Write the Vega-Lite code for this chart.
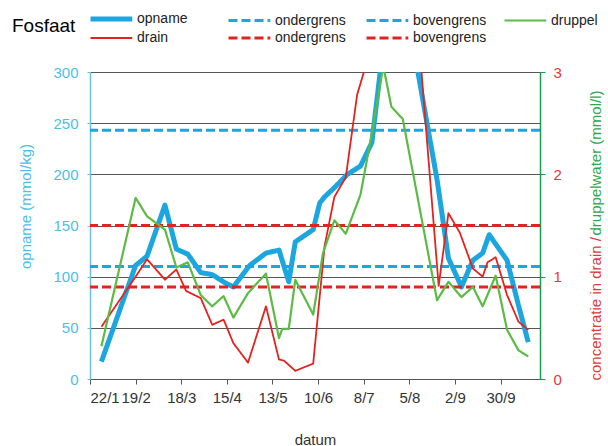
{
  "$schema": "https://vega.github.io/schema/vega-lite/v6.json",
  "width": 450,
  "height": 307,
  "autosize": {"type": "none"},
  "padding": {"left": 90, "top": 72, "right": 68, "bottom": 67},
  "config": {
    "font": "Liberation Sans",
    "view": {"stroke": null},
    "axis": {"titleFontWeight": "normal"}
  },
  "data": {
    "values": [
      {"serie": "ondergrens_b", "waarde": 110},
      {"serie": "bovengrens_b", "waarde": 243},
      {"serie": "ondergrens_r", "waarde": 0.9},
      {"serie": "bovengrens_r", "waarde": 1.5},
      {"serie": "opname", "datum": "2012-01-29", "waarde": 17},
      {"serie": "opname", "datum": "2012-02-19", "waarde": 111},
      {"serie": "opname", "datum": "2012-02-26", "waarde": 120},
      {"serie": "opname", "datum": "2012-03-08", "waarde": 170},
      {"serie": "opname", "datum": "2012-03-15", "waarde": 127},
      {"serie": "opname", "datum": "2012-03-22", "waarde": 122},
      {"serie": "opname", "datum": "2012-03-30", "waarde": 104},
      {"serie": "opname", "datum": "2012-04-06", "waarde": 102},
      {"serie": "opname", "datum": "2012-04-15", "waarde": 93},
      {"serie": "opname", "datum": "2012-04-19", "waarde": 90},
      {"serie": "opname", "datum": "2012-04-29", "waarde": 111},
      {"serie": "opname", "datum": "2012-05-09", "waarde": 123},
      {"serie": "opname", "datum": "2012-05-17", "waarde": 126},
      {"serie": "opname", "datum": "2012-05-23", "waarde": 95},
      {"serie": "opname", "datum": "2012-05-27", "waarde": 134},
      {"serie": "opname", "datum": "2012-06-07", "waarde": 146},
      {"serie": "opname", "datum": "2012-06-11", "waarde": 172},
      {"serie": "opname", "datum": "2012-06-14", "waarde": 178},
      {"serie": "opname", "datum": "2012-06-20", "waarde": 187},
      {"serie": "opname", "datum": "2012-06-28", "waarde": 200},
      {"serie": "opname", "datum": "2012-07-06", "waarde": 208},
      {"serie": "opname", "datum": "2012-07-13", "waarde": 231},
      {"serie": "opname", "datum": "2012-07-20", "waarde": 325},
      {"serie": "opname", "datum": "2012-07-27", "waarde": 360},
      {"serie": "opname", "datum": "2012-08-03", "waarde": 365},
      {"serie": "opname", "datum": "2012-08-22", "waarde": 195},
      {"serie": "opname", "datum": "2012-08-29", "waarde": 118},
      {"serie": "opname", "datum": "2012-09-06", "waarde": 90},
      {"serie": "opname", "datum": "2012-09-13", "waarde": 116},
      {"serie": "opname", "datum": "2012-09-19", "waarde": 123},
      {"serie": "opname", "datum": "2012-09-23", "waarde": 141},
      {"serie": "opname", "datum": "2012-10-04", "waarde": 116},
      {"serie": "opname", "datum": "2012-10-11", "waarde": 72},
      {"serie": "opname", "datum": "2012-10-17", "waarde": 36},
      {"serie": "drain", "datum": "2012-01-29", "waarde": 0.51},
      {"serie": "drain", "datum": "2012-02-19", "waarde": 1.0},
      {"serie": "drain", "datum": "2012-02-26", "waarde": 1.17},
      {"serie": "drain", "datum": "2012-03-08", "waarde": 0.97},
      {"serie": "drain", "datum": "2012-03-15", "waarde": 1.07},
      {"serie": "drain", "datum": "2012-03-21", "waarde": 0.86},
      {"serie": "drain", "datum": "2012-03-30", "waarde": 0.79},
      {"serie": "drain", "datum": "2012-04-06", "waarde": 0.53},
      {"serie": "drain", "datum": "2012-04-13", "waarde": 0.58},
      {"serie": "drain", "datum": "2012-04-19", "waarde": 0.35},
      {"serie": "drain", "datum": "2012-04-28", "waarde": 0.16},
      {"serie": "drain", "datum": "2012-05-09", "waarde": 0.71},
      {"serie": "drain", "datum": "2012-05-17", "waarde": 0.19},
      {"serie": "drain", "datum": "2012-05-20", "waarde": 0.18},
      {"serie": "drain", "datum": "2012-05-27", "waarde": 0.08},
      {"serie": "drain", "datum": "2012-06-07", "waarde": 0.15},
      {"serie": "drain", "datum": "2012-06-14", "waarde": 1.3},
      {"serie": "drain", "datum": "2012-06-20", "waarde": 1.78},
      {"serie": "drain", "datum": "2012-06-27", "waarde": 1.97},
      {"serie": "drain", "datum": "2012-07-02", "waarde": 2.55},
      {"serie": "drain", "datum": "2012-07-04", "waarde": 2.78},
      {"serie": "drain", "datum": "2012-07-10", "waarde": 3.1},
      {"serie": "drain", "datum": "2012-07-20", "waarde": 3.5},
      {"serie": "drain", "datum": "2012-08-01", "waarde": 3.7},
      {"serie": "drain", "datum": "2012-08-10", "waarde": 3.49},
      {"serie": "drain", "datum": "2012-08-23", "waarde": 0.91},
      {"serie": "drain", "datum": "2012-08-29", "waarde": 1.62},
      {"serie": "drain", "datum": "2012-09-05", "waarde": 1.43},
      {"serie": "drain", "datum": "2012-09-13", "waarde": 1.08},
      {"serie": "drain", "datum": "2012-09-19", "waarde": 1.0},
      {"serie": "drain", "datum": "2012-09-22", "waarde": 1.14},
      {"serie": "drain", "datum": "2012-09-27", "waarde": 1.19},
      {"serie": "drain", "datum": "2012-10-04", "waarde": 0.82},
      {"serie": "drain", "datum": "2012-10-11", "waarde": 0.56},
      {"serie": "drain", "datum": "2012-10-17", "waarde": 0.48},
      {"serie": "druppel", "datum": "2012-01-29", "waarde": 0.32},
      {"serie": "druppel", "datum": "2012-02-19", "waarde": 1.77},
      {"serie": "druppel", "datum": "2012-02-26", "waarde": 1.59},
      {"serie": "druppel", "datum": "2012-03-08", "waarde": 1.46},
      {"serie": "druppel", "datum": "2012-03-15", "waarde": 1.09},
      {"serie": "druppel", "datum": "2012-03-22", "waarde": 1.14},
      {"serie": "druppel", "datum": "2012-03-30", "waarde": 0.82},
      {"serie": "druppel", "datum": "2012-04-06", "waarde": 0.71},
      {"serie": "druppel", "datum": "2012-04-13", "waarde": 0.81},
      {"serie": "druppel", "datum": "2012-04-19", "waarde": 0.6},
      {"serie": "druppel", "datum": "2012-04-28", "waarde": 0.84},
      {"serie": "druppel", "datum": "2012-05-09", "waarde": 1.03},
      {"serie": "druppel", "datum": "2012-05-17", "waarde": 0.4},
      {"serie": "druppel", "datum": "2012-05-19", "waarde": 0.49},
      {"serie": "druppel", "datum": "2012-05-23", "waarde": 0.49},
      {"serie": "druppel", "datum": "2012-05-27", "waarde": 0.97},
      {"serie": "druppel", "datum": "2012-06-07", "waarde": 0.63},
      {"serie": "druppel", "datum": "2012-06-13", "waarde": 1.23},
      {"serie": "druppel", "datum": "2012-06-20", "waarde": 1.55},
      {"serie": "druppel", "datum": "2012-06-27", "waarde": 1.42},
      {"serie": "druppel", "datum": "2012-07-06", "waarde": 1.8},
      {"serie": "druppel", "datum": "2012-07-13", "waarde": 2.4},
      {"serie": "druppel", "datum": "2012-07-20", "waarde": 3.06},
      {"serie": "druppel", "datum": "2012-07-25", "waarde": 2.66},
      {"serie": "druppel", "datum": "2012-08-01", "waarde": 2.54},
      {"serie": "druppel", "datum": "2012-08-22", "waarde": 0.77},
      {"serie": "druppel", "datum": "2012-08-29", "waarde": 0.95},
      {"serie": "druppel", "datum": "2012-09-06", "waarde": 0.8},
      {"serie": "druppel", "datum": "2012-09-13", "waarde": 0.9},
      {"serie": "druppel", "datum": "2012-09-19", "waarde": 0.71},
      {"serie": "druppel", "datum": "2012-09-27", "waarde": 1.01},
      {"serie": "druppel", "datum": "2012-10-04", "waarde": 0.48},
      {"serie": "druppel", "datum": "2012-10-11", "waarde": 0.28},
      {"serie": "druppel", "datum": "2012-10-17", "waarde": 0.22}
    ]
  },
  "encoding": {
    "color": {
      "field": "serie", "type": "nominal", "title": "Fosfaat",
      "scale": {
        "domain": ["opname", "drain", "ondergrens_b", "ondergrens_r", "bovengrens_b", "bovengrens_r", "druppel"],
        "range": ["#1ba6e0", "#e2231f", "#1ba6e0", "#e2231f", "#1ba6e0", "#e2231f", "#5cbb45"]
      },
      "legend": {
        "orient": "none", "legendX": -78, "legendY": -60,
        "titleOrient": "left", "titleFontSize": 19, "titleFontWeight": "normal", "titleColor": "#000",
        "titlePadding": 17, "titleAnchor": "start", "titleBaseline": "line-top", "titleLineHeight": 28.4,
        "columns": 4, "gridAlign": "all", "columnPadding": 11, "rowPadding": 2,
        "symbolType": "M-1,0H3.4", "symbolSize": 361,
        "labelFontSize": 14, "labelColor": "#222", "labelOffset": 30,
        "labelExpr": "split(datum.label, '_')[0]",
        "encode": {
          "symbols": {
            "update": {
              "strokeWidth": {"signal": "datum.value === 'opname' ? 5 : (datum.value === 'drain' ? 1.8 : (datum.value === 'druppel' ? 2.2 : 3))"}
            }
          }
        }
      }
    },
    "strokeDash": {
      "field": "serie", "type": "nominal", "title": "Fosfaat",
      "scale": {
        "domain": ["opname", "drain", "ondergrens_b", "ondergrens_r", "bovengrens_b", "bovengrens_r", "druppel"],
        "range": [[1, 0], [1, 0], [9, 4], [9, 4], [9, 4], [9, 4], [1, 0]]
      }
    }
  },
  "layer": [
    {
      "layer": [
        {
          "transform": [{"filter": "datum.serie === 'ondergrens_b' || datum.serie === 'bovengrens_b'"}],
          "mark": {"type": "rule", "strokeWidth": 3},
          "encoding": {
            "y": {
              "field": "waarde", "type": "quantitative",
              "scale": {"domain": [0, 300], "nice": false, "zero": true},
              "axis": {
                "orient": "left", "values": [0, 50, 100, 150, 200, 250, 300],
                "labelFontSize": 15, "labelColor": "#4cbfe6", "labelPadding": 9,
                "domainColor": "#68c3e3", "domainWidth": 1.5, "tickColor": "#68c3e3", "tickSize": 3,
                "grid": true, "gridColor": "#555", "gridWidth": 1,
                "title": "opname (mmol/kg)", "titleColor": "#4cbfe6", "titleFontSize": 15,
                "titleAngle": 270, "titleX": -65, "titleY": 134, "titleAlign": "center", "titleBaseline": "middle"
              }
            }
          }
        },
        {
          "transform": [{"filter": "datum.serie === 'opname'"}],
          "mark": {"type": "line", "clip": true, "strokeJoin": "round", "strokeWidth": 5},
          "encoding": {
            "x": {
              "field": "datum", "type": "temporal",
              "scale": {"type": "utc", "domain": [{"year": 2012, "month": 1, "date": 22, "utc": true}, {"year": 2012, "month": 10, "date": 24, "hours": 5, "utc": true}]},
              "axis": {
                "values": [
                  {"year": 2012, "month": 1, "date": 22, "utc": true},
                  {"year": 2012, "month": 2, "date": 19, "utc": true},
                  {"year": 2012, "month": 3, "date": 18, "utc": true},
                  {"year": 2012, "month": 4, "date": 15, "utc": true},
                  {"year": 2012, "month": 5, "date": 13, "utc": true},
                  {"year": 2012, "month": 6, "date": 10, "utc": true},
                  {"year": 2012, "month": 7, "date": 8, "utc": true},
                  {"year": 2012, "month": 8, "date": 5, "utc": true},
                  {"year": 2012, "month": 9, "date": 2, "utc": true},
                  {"year": 2012, "month": 9, "date": 30, "utc": true}
                ],
                "format": "%-d/%-m", "grid": false,
                "labelFontSize": 15, "labelColor": "#333", "labelPadding": 6,
                "domainColor": "#555", "tickColor": "#555", "tickSize": 5,
                "title": "datum", "titleFontSize": 15, "titleColor": "#333", "titlePadding": 27
              }
            },
            "y": {"field": "waarde", "type": "quantitative"}
          }
        }
      ]
    },
    {
      "layer": [
        {
          "transform": [{"filter": "datum.serie === 'ondergrens_r' || datum.serie === 'bovengrens_r'"}],
          "mark": {"type": "rule", "strokeWidth": 3},
          "encoding": {
            "y": {
              "field": "waarde", "type": "quantitative",
              "scale": {"domain": [0, 3], "nice": false, "zero": true},
              "axis": {
                "orient": "right", "values": [0, 1, 2, 3], "format": "d", "grid": false,
                "labelFontSize": 15, "labelColor": "#e03a3a", "labelPadding": 8,
                "domainColor": "#1a9a4a", "domainWidth": 1.5, "tickColor": "#1a9a4a", "tickSize": 5,
                "title": "concentratie in drain /", "titleColor": "#e03a3a", "titleFontSize": 15,
                "titleAngle": 270, "titleX": 55, "titleY": 308, "titleAlign": "left", "titleBaseline": "middle"
              }
            }
          }
        },
        {
          "transform": [{"filter": "datum.serie === 'drain'"}],
          "mark": {"type": "line", "clip": true, "strokeJoin": "round", "strokeWidth": 1.8},
          "encoding": {
            "x": {"field": "datum", "type": "temporal"},
            "y": {"field": "waarde", "type": "quantitative"}
          }
        }
      ]
    },
    {
      "transform": [{"filter": "datum.serie === 'druppel'"}],
      "mark": {"type": "line", "clip": true, "strokeJoin": "round", "strokeWidth": 2.2},
      "encoding": {
        "x": {"field": "datum", "type": "temporal"},
        "y": {
          "field": "waarde", "type": "quantitative",
          "scale": {"domain": [0, 3], "nice": false, "zero": true},
          "axis": {
            "orient": "right", "labels": false, "ticks": false, "domain": false, "grid": false,
            "title": "druppelwater (mmol/l)", "titleColor": "#2ea84f", "titleFontSize": 15,
            "titleAngle": 270, "titleX": 55, "titleY": 18, "titleAlign": "right", "titleBaseline": "middle"
          }
        }
      }
    }
  ],
  "resolve": {"scale": {"y": "independent"}, "axis": {"y": "independent"}}
}
